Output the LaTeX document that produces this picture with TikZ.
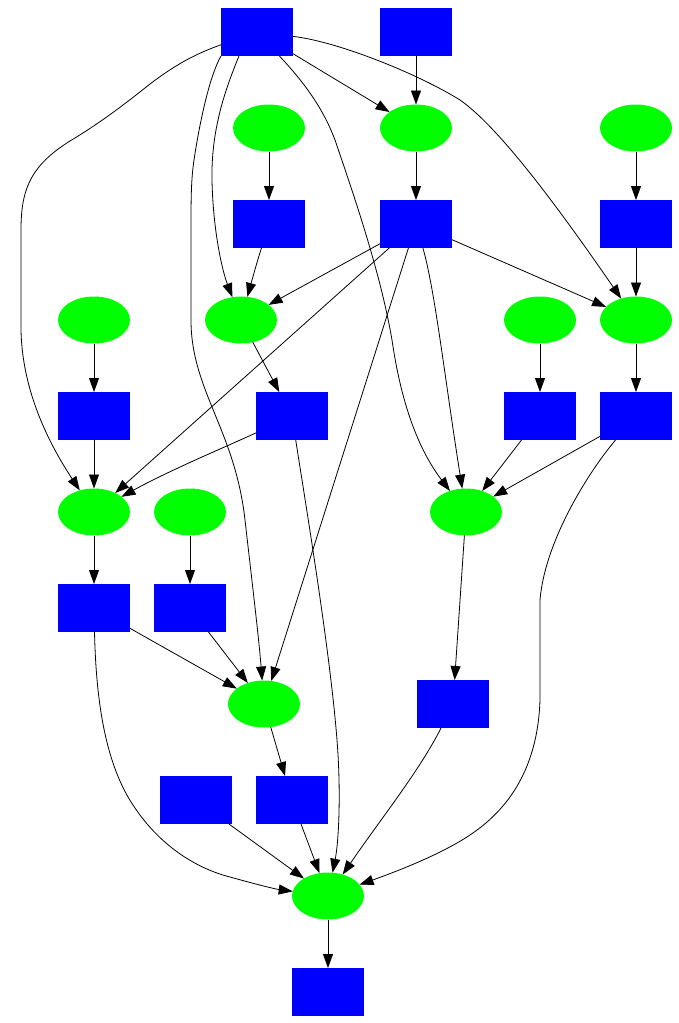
\documentclass[tikz,border=0pt]{standalone}
\usetikzlibrary{arrows.meta,shapes.geometric}
\definecolor{boxblue}{RGB}{0,0,255}
\definecolor{blobgreen}{RGB}{0,255,0}
\begin{document}
\begin{tikzpicture}[x=1pt,y=-1pt,
  box/.style={rectangle,fill=boxblue,draw=none,minimum width=72pt,minimum height=48pt,inner sep=0pt,outer sep=0pt},
  blob/.style={ellipse,fill=blobgreen,draw=none,minimum width=72pt,minimum height=47pt,inner sep=0pt,outer sep=0pt},
  link/.style={draw=black,line width=0.8pt,-{Triangle[length=14pt,width=10pt]}}]
\fill[white] (0,0) rectangle (679,1023);
\useasboundingbox (0,0) rectangle (679,1023);

% rank 0
\node[box] (rA) at (257,32) {};
\node[box] (rB) at (416,32) {};
% rank 1
\node[blob] (e1) at (269,128) {};
\node[blob] (e2) at (416,128) {};
\node[blob] (e3) at (636,128) {};
% rank 2
\node[box] (rC) at (269,224) {};
\node[box] (rD) at (416,224) {};
\node[box] (rF) at (636,224) {};
% rank 3
\node[blob] (e4) at (94,320) {};
\node[blob] (e5) at (241,320) {};
\node[blob] (e6) at (540,320) {};
\node[blob] (e7) at (636,320) {};
% rank 4
\node[box] (rG) at (94,416) {};
\node[box] (rH) at (292,416) {};
\node[box] (rI) at (540,416) {};
\node[box] (rJ) at (636,416) {};
% rank 5
\node[blob] (e8) at (94,512) {};
\node[blob] (e9) at (190,512) {};
\node[blob] (e10) at (466,512) {};
% rank 6
\node[box] (rK) at (94,608) {};
\node[box] (rL) at (190,608) {};
% rank 7
\node[blob] (e11) at (264,704) {};
\node[box] (rM) at (453,704) {};
% rank 8
\node[box] (rN) at (196,800) {};
\node[box] (rO) at (292,800) {};
% rank 9
\node[blob] (e12) at (328,896) {};
% rank 10
\node[box] (rP) at (328,992) {};

% edges out of the top left box
\draw[link] (rA) -- (e2);
\draw[link] ([xshift=-18pt]rA.south) .. controls (225,90) and (211,130) .. (212,180)
  .. controls (213,230) and (222,270) .. (e5);
\draw[link] (rA) .. controls (195,54) and (175,65) .. (150,84)
  .. controls (125,104) and (100,123) .. (70,141)
  .. controls (30,166) and (21,190) .. (21,230) -- (21,330)
  .. controls (22,380) and (40,430) .. (e8);
\draw[link] (rA.south west) .. controls (210,75) and (200,120) .. (194,160)
  .. controls (191,180) and (191,200) .. (191,230) -- (191,320)
  .. controls (191,390) and (235,430) .. (245,520)
  .. controls (253,590) and (259,640) .. (e11);
\draw[link] (rA) .. controls (300,78) and (322,105) .. (335,140)
  .. controls (352,190) and (380,270) .. (392,340)
  .. controls (400,395) and (415,445) .. (e10);
\draw[link] (rA) .. controls (340,42) and (420,75) .. (460,100)
  .. controls (500,128) and (560,210) .. (e7);

\draw[link] (rB) -- (e2);
\draw[link] (e1) -- (rC);
\draw[link] (e2) -- (rD);
\draw[link] (e3) -- (rF);

\draw[link] (rC) .. controls (257,262) and (252,280) .. (e5);

% edges out of the central box
\draw[link] (rD) -- (e5);
\draw[link] (rD) -- (e8);
\draw[link] (rD) -- (e11);
\draw[link] (rD) .. controls (435,290) and (445,380) .. (e10);
\draw[link] (rD) -- (e7);

\draw[link] (rF) -- (e7);
\draw[link] (e4) -- (rG);
\draw[link] (e5) -- (rH);
\draw[link] (e6) -- (rI);
\draw[link] (e7) -- (rJ);

\draw[link] (rG) -- (e8);
\draw[link] (rH) .. controls (230,445) and (170,470) .. (e8);
\draw[link] (rH) .. controls (305,500) and (330,650) .. (337,740)
  .. controls (341,790) and (339,840) .. (e12);
\draw[link] (rI) -- (e10);
\draw[link] (rJ) -- (e10);
\draw[link] (rJ) .. controls (590,470) and (545,540) .. (540,600) -- (540,700)
  .. controls (538,760) and (515,805) .. (470,835)
  .. controls (440,855) and (395,872) .. (e12);

\draw[link] (e8) -- (rK);
\draw[link] (e9) -- (rL);
\draw[link] (e10) -- (rM);

\draw[link] (rK) -- (e11);
\draw[link] (rL) -- (e11);
\draw[link] (rK) .. controls (96,700) and (105,765) .. (135,808)
  .. controls (160,845) and (195,868) .. (230,877)
  .. controls (255,884) and (275,889) .. (e12);

\draw[link] (e11) -- (rO);
\draw[link] (rM) .. controls (420,770) and (380,820) .. (e12);
\draw[link] (rN) -- (e12);
\draw[link] (rO) -- (e12);
\draw[link] (e12) -- (rP);
\end{tikzpicture}
\end{document}
